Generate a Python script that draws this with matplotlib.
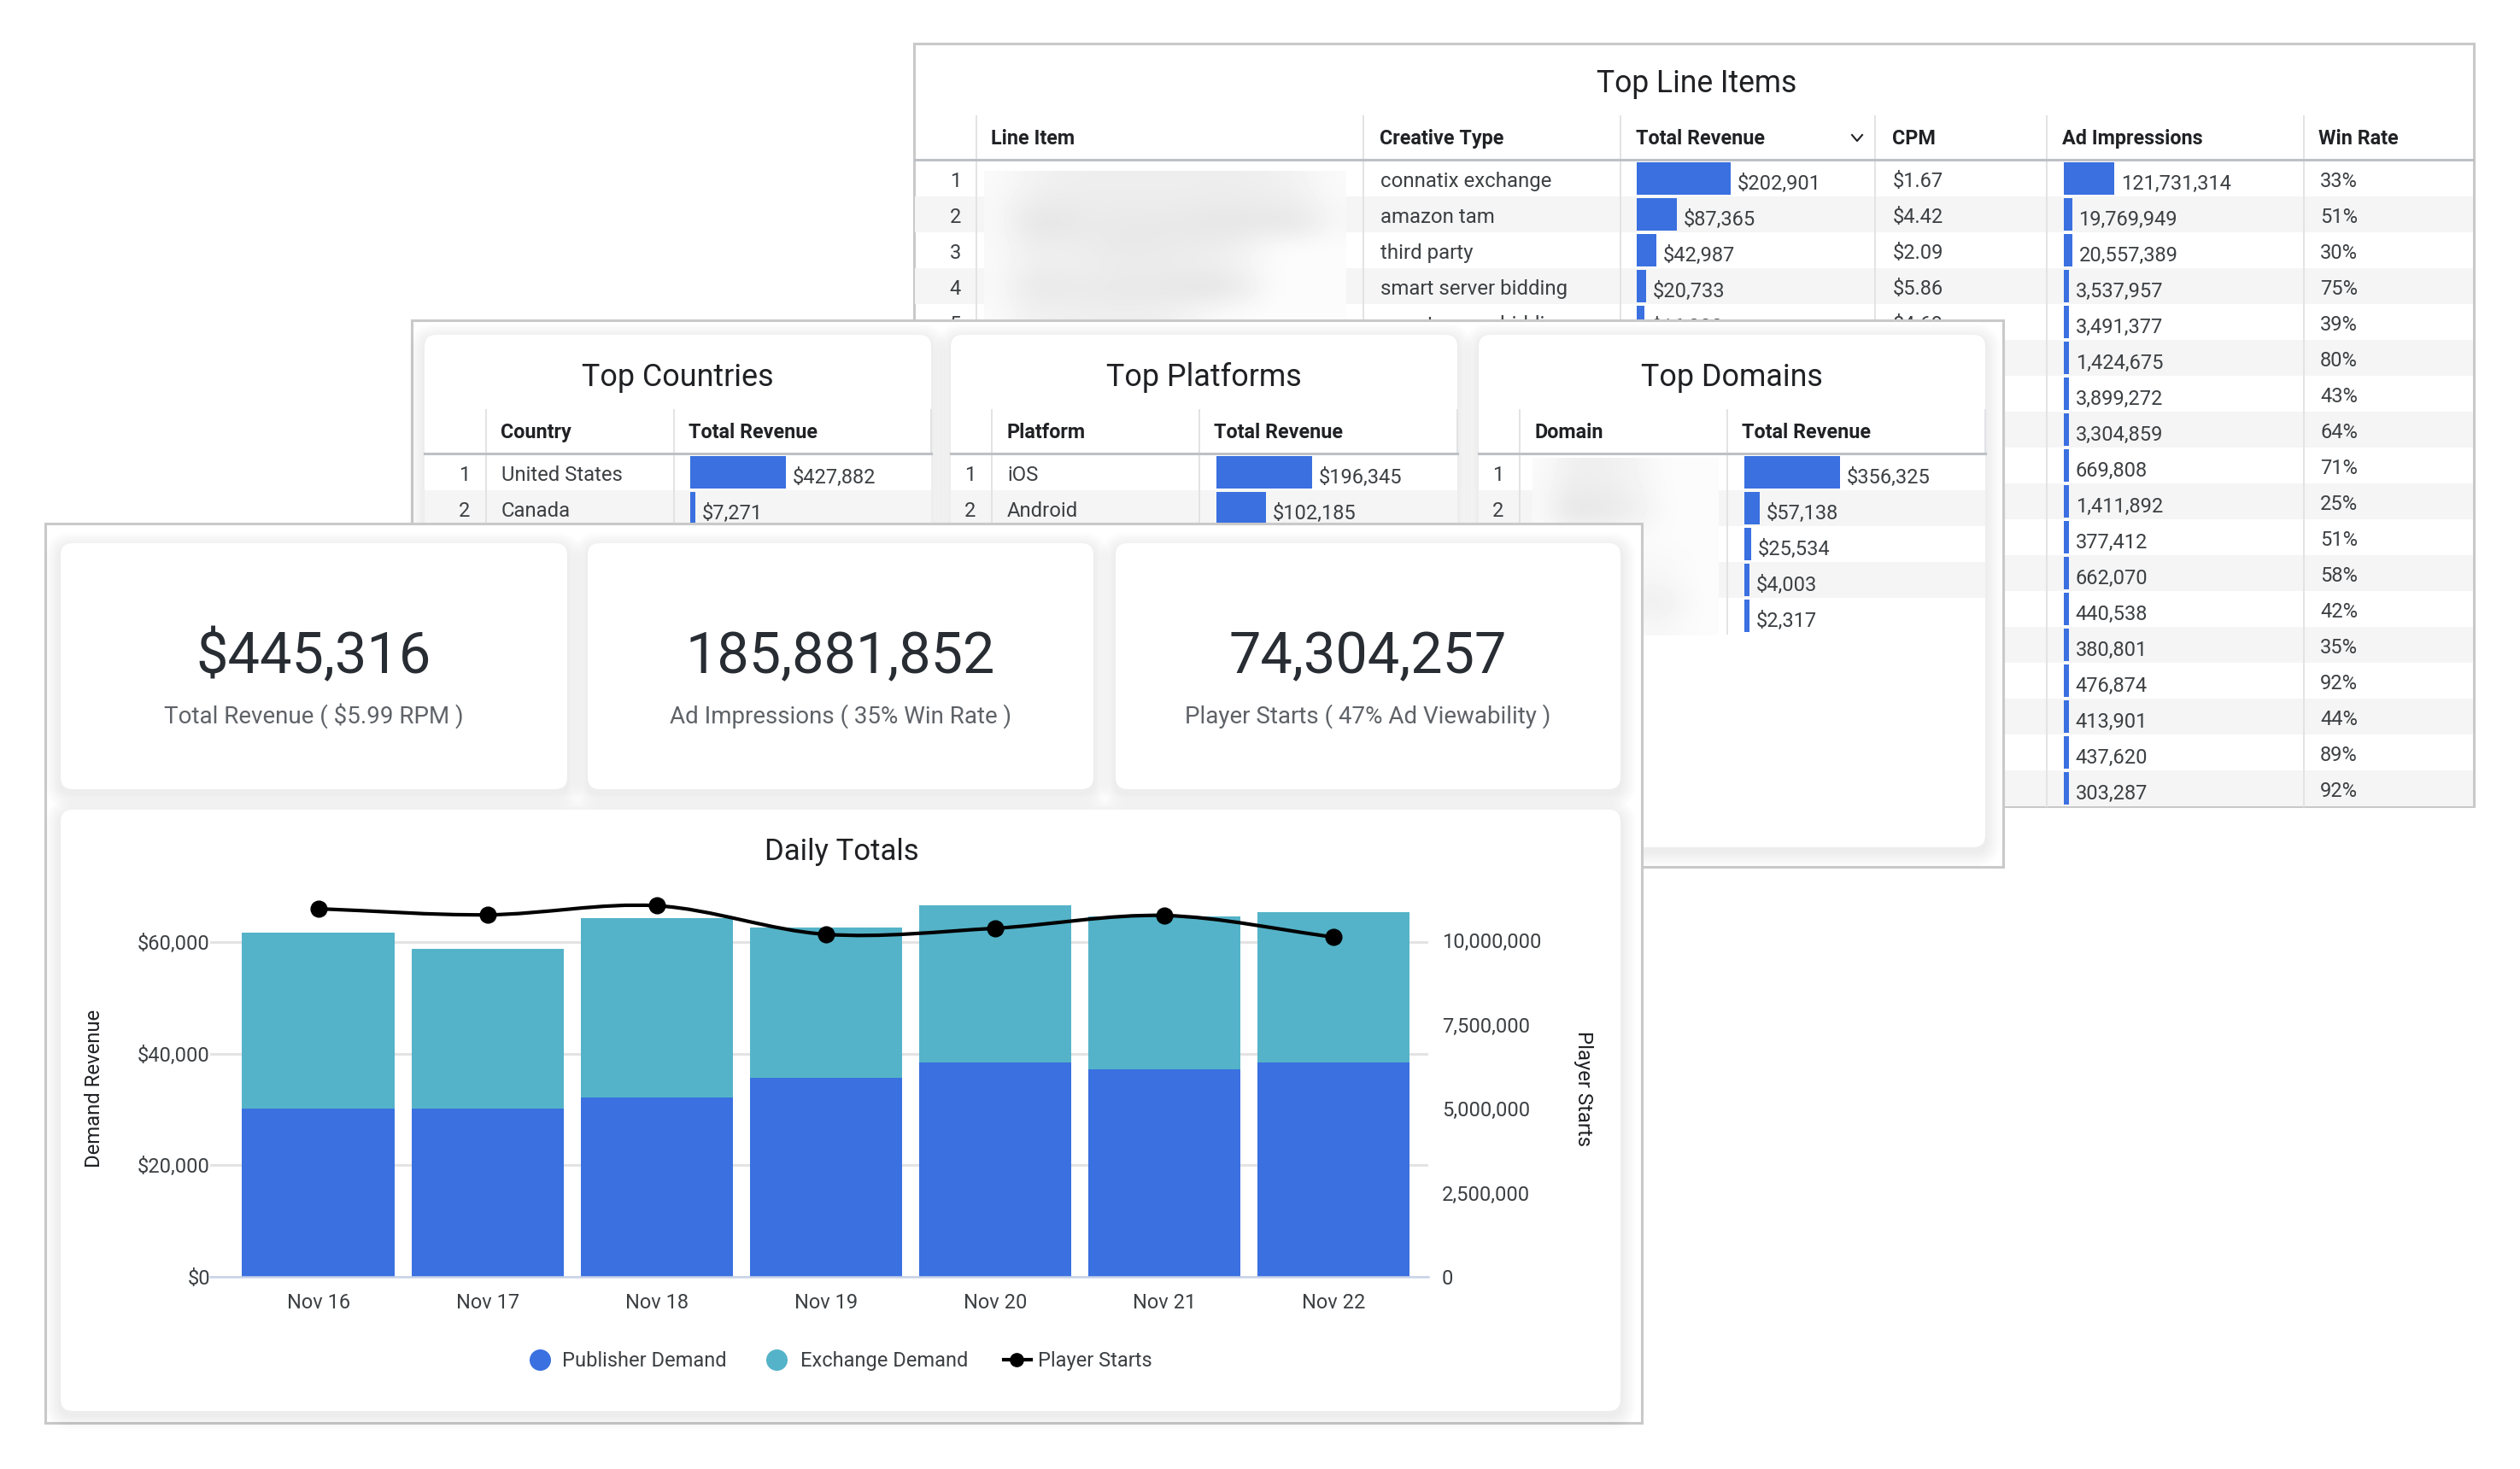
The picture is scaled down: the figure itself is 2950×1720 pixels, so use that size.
import matplotlib
matplotlib.use("Agg")
import matplotlib.pyplot as plt
import numpy as np
from matplotlib.lines import Line2D
from matplotlib.patches import FancyBboxPatch, PathPatch, Rectangle
from matplotlib.path import Path

plt.rcParams["font.family"] = ["Roboto", "DejaVu Sans"]

W, H = 2950, 1720
BLUE = "#3a70e0"
TEAL = "#54b3c8"
BORDER = "#c9c9c9"
STRIPE = "#f5f5f5"
DIVIDER = "#e2e3e5"
HEAD_LINE = "#bdc1c6"
DARK = "#202124"
TEXT = "#3c4043"
GREY = "#5f6368"

# Top Line Items
line_columns = ["Line Item", "Creative Type", "Total Revenue", "CPM", "Ad Impressions", "Win Rate"]
creative_types = ["connatix exchange", "amazon tam", "third party", "smart server bidding", "smart server bidding"]
line_revenue = [202901, 87365, 42987, 20733, 16200]
line_cpm = ["$1.67", "$4.42", "$2.09", "$5.86", "$4.69"]
ad_impressions = [121731314, 19769949, 20557389, 3537957, 3491377, 1424675, 3899272, 3304859, 669808,
                  1411892, 377412, 662070, 440538, 380801, 476874, 413901, 437620, 303287]
win_rate = [33, 51, 30, 75, 39, 80, 43, 64, 71, 25, 51, 58, 42, 35, 92, 44, 89, 92]

# Top Countries / Platforms / Domains
countries = ["United States", "Canada"]
country_revenue = [427882, 7271]
platforms = ["iOS", "Android"]
platform_revenue = [196345, 102185]
domain_revenue = [356325, 57138, 25534, 4003, 2317]

# KPI cards
kpi_values = ["$445,316", "185,881,852", "74,304,257"]
kpi_labels = ["Total Revenue ( $5.99 RPM )", "Ad Impressions ( 35% Win Rate )", "Player Starts ( 47% Ad Viewability )"]

# Daily Totals
days = ["Nov 16", "Nov 17", "Nov 18", "Nov 19", "Nov 20", "Nov 21", "Nov 22"]
publisher_demand = [30150, 30150, 32200, 35650, 38400, 37200, 38400]
exchange_demand = [31550, 28750, 32200, 26950, 28200, 27500, 27000]
player_starts = [10940000, 10760000, 11030000, 10180000, 10360000, 10740000, 10100000]
revenue_ticks = [0, 20000, 40000, 60000]
starts_ticks = [0, 2500000, 5000000, 7500000, 10000000]

# blurred out names, rough grey levels
line_item_blur = [
    [250, 243, 239, 238, 238, 238, 238, 237, 238, 239, 243, 250],
    [248, 236, 235, 236, 236, 236, 236, 235, 235, 236, 238, 248],
    [248, 229, 229, 234, 233, 232, 232, 229, 229, 229, 229, 246],
    [249, 238, 238, 236, 232, 233, 235, 236, 240, 250, 252, 252],
    [249, 238, 238, 238, 236, 236, 236, 238, 242, 251, 252, 252],
    [248, 232, 232, 234, 231, 232, 229, 226, 232, 250, 252, 252],
    [250, 240, 240, 238, 238, 238, 242, 248, 251, 252, 252, 252],
]
domain_blur = [
    [250, 240, 238, 240, 244, 250, 252, 252],
    [248, 236, 236, 238, 242, 250, 252, 252],
    [248, 229, 229, 232, 238, 248, 252, 252],
    [250, 250, 250, 250, 250, 252, 252, 252],
    [252, 252, 252, 250, 248, 248, 250, 252],
    [252, 252, 252, 250, 246, 246, 250, 252],
    [252, 252, 252, 250, 240, 236, 246, 252],
    [252, 252, 252, 252, 248, 246, 250, 252],
]


def pixel_axes(x0, y0, x1, y1, z):
    """Axes placed by reference pixels, y measured from the top."""
    return fig.add_axes([x0 / W, 1 - y1 / H, (x1 - x0) / W, (y1 - y0) / H], zorder=z)


def layer(z):
    ax = pixel_axes(0, 0, W, H, z)
    ax.set_xlim(0, W)
    ax.set_ylim(H, 0)
    ax.axis("off")
    return ax


def panel(ax, x0, y0, x1, y1):
    ax.add_patch(Rectangle((x0, y0), x1 - x0, y1 - y0, fc="white", ec=BORDER, lw=2.2))


def card(ax, x0, y0, x1, y1):
    for grow in range(18, 0, -2):
        ax.add_patch(FancyBboxPatch((x0 - grow, y0 - grow + 5), x1 - x0 + 2 * grow, y1 - y0 + 2 * grow,
                                    boxstyle="round,pad=0,rounding_size=%d" % (14 + grow),
                                    fc="black", ec="none", alpha=0.006))
    ax.add_patch(FancyBboxPatch((x0, y0), x1 - x0, y1 - y0, boxstyle="round,pad=0,rounding_size=14",
                                fc="white", ec="none"))


def bar_column(x0, y0, width, values, z, labels, row_h=42, min_px=6):
    ax = pixel_axes(x0, y0, x0 + width, y0 + row_h * len(values), z)
    top = max(values)
    shown = [max(v, top * min_px / width) for v in values]
    rows = np.arange(len(values)) + 0.5
    ax.barh(rows, shown, height=38 / 42, color=BLUE)
    ax.set_xlim(0, top)
    ax.set_ylim(len(values), 0)
    ax.axis("off")
    for row, s, label in zip(rows, shown, labels):
        ax.annotate(label, (s, row), xytext=(5.5, -9.5), textcoords="offset points", va="baseline",
                    fontsize=17, color=TEXT, annotation_clip=False)


def blur(data, x0, y0, x1, y1, z):
    ax = pixel_axes(x0, y0, x1, y1, z)
    ax.imshow(data, cmap="gray", vmin=0, vmax=255, aspect="auto", interpolation="bicubic")
    ax.axis("off")


fig = plt.figure(figsize=(W / 100, H / 100), dpi=100, facecolor="white")

# ---- back panel, Top Line Items
back = layer(1)
panel(back, 1070, 51, 2896, 944)
back.text(1986, 108, "Top Line Items", ha="center", va="baseline", fontsize=25.6, color=DARK)
line_dividers = [1143, 1596, 1897, 2195, 2396, 2697]
header_x = [1160, 1615, 1915, 2215, 2414, 2714]
for i in range(1, 18, 2):
    back.add_patch(Rectangle((1071, 188 + 42 * i), 1824, 42, fc=STRIPE, ec="none"))
for x in line_dividers:
    back.plot([x, x], [136, 944], color=DIVIDER, lw=1.4)
back.plot([1071, 2895], [187, 187], color=HEAD_LINE, lw=2.2)
for x, name in zip(header_x, line_columns):
    back.text(x, 169, name, va="baseline", fontsize=16.8, color=DARK, fontweight="bold")
back.plot([2168, 2174, 2180], [158, 165, 158], color=DARK, lw=1.5)
for i, kind in enumerate(creative_types):
    base = 188 + 42 * i + 31
    back.text(1125, base, str(i + 1), ha="right", va="baseline", fontsize=17, color=TEXT)
    back.text(1616, base, kind, va="baseline", fontsize=17.3, color=TEXT)
    back.text(2216, base, line_cpm[i], va="baseline", fontsize=17, color=TEXT)
for i, rate in enumerate(win_rate):
    back.text(2716, 188 + 42 * i + 31, "%d%%" % rate, va="baseline", fontsize=17, color=TEXT)
blur(line_item_blur, 1152, 200, 1576, 376, 1.5)
bar_column(1916, 188, 110, line_revenue, 2, ["${:,}".format(v) for v in line_revenue])
bar_column(2416, 188, 59, ad_impressions, 2, ["{:,}".format(v) for v in ad_impressions])

# ---- middle panel, three small tables
middle = layer(3)
panel(middle, 482, 375, 2345, 1015)
cards_x = [(497, 1090), (1113, 1706), (1731, 2324)]
titles = ["Top Countries", "Top Platforms", "Top Domains"]
first_cols = ["Country", "Platform", "Domain"]
dividers = [(569, 789), (1161, 1404), (1779, 2022)]
bar_x = [808, 1424, 2042]
row_names = [countries, platforms, []]
revenues = [country_revenue, platform_revenue, domain_revenue]
for k in range(3):
    x0, x1 = cards_x[k]
    card(middle, x0, 392, x1, 992)
    middle.text((x0 + x1) / 2, 452, titles[k], ha="center", va="baseline", fontsize=25.8, color=DARK)
    for i in range(1, len(revenues[k]), 2):
        middle.add_patch(Rectangle((x0, 532 + 42 * i), x1 - x0, 42, fc=STRIPE, ec="none"))
    for x in dividers[k]:
        middle.plot([x, x], [480, 532 + 42 * len(revenues[k])], color=DIVIDER, lw=1.4)
    middle.plot([x1, x1], [480, 531], color=DIVIDER, lw=1.4)
    middle.plot([x0, x1], [531, 531], color=HEAD_LINE, lw=2.2)
    middle.text(dividers[k][0] + 17, 513, first_cols[k], va="baseline", fontsize=16.8, color=DARK, fontweight="bold")
    middle.text(dividers[k][1] + 17, 513, "Total Revenue", va="baseline", fontsize=16.8, color=DARK, fontweight="bold")
    for i in range(len(revenues[k])):
        base = 532 + 42 * i + 31
        middle.text(dividers[k][0] - 19, base, str(i + 1), ha="right", va="baseline", fontsize=17, color=TEXT)
        if row_names[k]:
            middle.text(dividers[k][0] + 18, base, row_names[k][i], va="baseline", fontsize=17.2, color=TEXT)
    bar_column(bar_x[k], 532, 112, revenues[k], 4, ["${:,}".format(v) for v in revenues[k]])
blur(domain_blur, 1794, 536, 2012, 744, 3.5)

# ---- front panel, KPI cards and chart
front = layer(5)
panel(front, 53, 613, 1922, 1666)
kpi_x = [(71, 664), (688, 1280), (1306, 1897)]
for (x0, x1), value, label in zip(kpi_x, kpi_values, kpi_labels):
    card(front, x0, 636, x1, 924)
    front.text((x0 + x1) / 2, 788, value, ha="center", va="baseline", fontsize=48, color="#282c33")
    front.text((x0 + x1) / 2, 847, label, ha="center", va="baseline", fontsize=20, color=GREY)
card(front, 71, 948, 1897, 1652)
front.text(985, 1007, "Daily Totals", ha="center", va="baseline", fontsize=25, color=DARK)

# chart, left axis for bars and right axis for the line
ax = pixel_axes(246, 1040, 1672, 1495, 6)
ax.patch.set_alpha(0)
x = np.arange(len(days))
ax.bar(x, publisher_demand, width=0.9, color=BLUE, zorder=2)
ax.bar(x, exchange_demand, width=0.9, bottom=publisher_demand, color=TEAL, zorder=2)
ax.set_xlim(-0.639, 6.56)
ax.set_ylim(0, 69700)
ax.set_yticks(revenue_ticks)
ax.set_yticklabels(["${:,}".format(v) for v in revenue_ticks])
ax.set_xticks(x)
ax.set_xticklabels(days)
ax.tick_params(axis="both", length=0, labelsize=17, labelcolor=TEXT)
ax.tick_params(axis="x", pad=14)
ax.tick_params(axis="y", pad=0)
ax.grid(axis="y", color="#e3e3e3", lw=2.2, zorder=1)
ax.set_axisbelow(True)
for side in ["top", "left", "right"]:
    ax.spines[side].set_visible(False)
ax.spines["bottom"].set_color("#c8d3e8")
ax.spines["bottom"].set_linewidth(1.8)
ax.set_ylabel("Demand Revenue", fontsize=17.2, color=DARK)
ax.yaxis.set_label_coords((122 - 246) / 1426, (1495 - 1274) / 455)

ax2 = ax.twinx()
ax2.set_zorder(7)
ax2.patch.set_alpha(0)
ax2.set_ylim(0, 11550000)
ax2.set_yticks(starts_ticks)
ax2.set_yticklabels(["{:,}".format(v) for v in starts_ticks])
ax2.tick_params(axis="y", length=0, labelsize=17, labelcolor=TEXT, pad=11.5)
for side in ax2.spines:
    ax2.spines[side].set_visible(False)
ax2.set_ylabel("Player Starts", fontsize=17.2, color=DARK, rotation=270, va="center")
ax2.yaxis.set_label_coords((1854 - 246) / 1426, (1495 - 1275) / 455)

# smooth curve through the daily values, same idea as the dashboard line
ys = np.array(player_starts, dtype=float)
slopes = np.gradient(ys)
verts = [(x[0], ys[0])]
codes = [Path.MOVETO]
for i in range(len(ys) - 1):
    verts += [(x[i] + 1 / 3, ys[i] + slopes[i] / 3), (x[i + 1] - 1 / 3, ys[i + 1] - slopes[i + 1] / 3), (x[i + 1], ys[i + 1])]
    codes += [Path.CURVE4, Path.CURVE4, Path.CURVE4]
ax2.add_patch(PathPatch(Path(verts, codes), fc="none", ec="black", lw=3))
ax2.plot(x, ys, "o", color="black", ms=13.5, clip_on=False)

# legend
front2 = layer(8)
legend_marks = [(632, BLUE), (909, TEAL)]
for lx, col in legend_marks:
    front2.plot([lx], [1592], "o", color=col, ms=17)
front2.add_line(Line2D([1175, 1207], [1592, 1592], color="black", lw=3))
front2.plot([1190], [1592], "o", color="black", ms=11)
front2.text(658, 1600, "Publisher Demand", va="baseline", fontsize=17, color=TEXT)
front2.text(937, 1600, "Exchange Demand", va="baseline", fontsize=17, color=TEXT)
front2.text(1215, 1600, "Player Starts", va="baseline", fontsize=17, color=TEXT)

fig.savefig("out.png", dpi=100, facecolor="white")
